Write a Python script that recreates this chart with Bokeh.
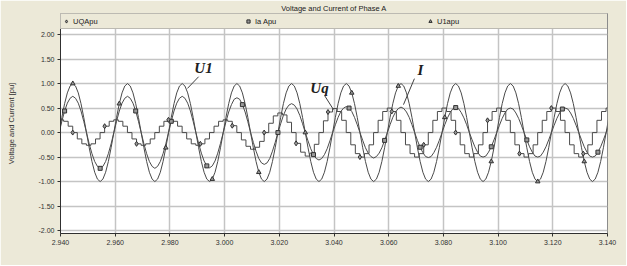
import numpy as np
from bokeh.plotting import figure
from bokeh.models import (Range1d, Legend, LegendItem, FixedTicker,
                          NumeralTickFormatter, ColumnDataSource)
from bokeh.embed import file_html
from bokeh.resources import INLINE
from bokeh.core.properties import value

# ---------------- data ----------------
# smooth curves sampled every 1 ms starting at T0
T0 = 2.9395
DT = 0.001
U1_VALUES = [
    0.00, 0.31, 0.59, 0.81, 0.95, 1.00, 0.95, 0.81, 0.59, 0.31, 0.00, -0.31, -0.59, -0.81, -0.95, -1.00, -0.95, -0.81, -0.59, -0.31,
    0.00, 0.31, 0.59, 0.81, 0.95, 1.00, 0.95, 0.81, 0.59, 0.31, 0.00, -0.31, -0.59, -0.81, -0.95, -1.00, -0.95, -0.81, -0.59, -0.31,
    0.00, 0.31, 0.59, 0.81, 0.95, 1.00, 0.95, 0.81, 0.59, 0.31, 0.00, -0.31, -0.59, -0.81, -0.95, -1.00, -0.95, -0.81, -0.59, -0.31,
    0.00, 0.31, 0.59, 0.81, 0.95, 1.00, 0.95, 0.81, 0.59, 0.31, 0.00, -0.31, -0.59, -0.81, -0.95, -1.00, -0.95, -0.81, -0.59, -0.31,
    0.00, 0.31, 0.59, 0.81, 0.95, 1.00, 0.95, 0.81, 0.59, 0.31, 0.00, -0.31, -0.59, -0.81, -0.95, -1.00, -0.95, -0.81, -0.59, -0.31,
    0.00, 0.31, 0.59, 0.81, 0.95, 1.00, 0.95, 0.81, 0.59, 0.31, 0.00, -0.31, -0.59, -0.81, -0.95, -1.00, -0.95, -0.81, -0.59, -0.31,
    0.00, 0.31, 0.59, 0.81, 0.95, 1.00, 0.95, 0.81, 0.59, 0.31, 0.00, -0.31, -0.59, -0.81, -0.95, -1.00, -0.95, -0.81, -0.59, -0.31,
    0.00, 0.31, 0.59, 0.81, 0.95, 1.00, 0.95, 0.81, 0.59, 0.31, 0.00, -0.31, -0.59, -0.81, -0.95, -1.00, -0.95, -0.81, -0.59, -0.31,
    0.00, 0.31, 0.59, 0.81, 0.95, 1.00, 0.95, 0.81, 0.59, 0.31, 0.00, -0.31, -0.59, -0.81, -0.95, -1.00, -0.95, -0.81, -0.59, -0.31,
    0.00, 0.31, 0.59, 0.81, 0.95, 1.00, 0.95, 0.81, 0.59, 0.31, 0.00, -0.31, -0.59, -0.81, -0.95, -1.00, -0.95, -0.81, -0.59, -0.31,
    0.00, 0.31,
]
IA_VALUES = [
    0.00, 0.23, 0.44, 0.60, 0.70, 0.74, 0.70, 0.60, 0.44, 0.23, 0.00, -0.23, -0.43, -0.59, -0.69, -0.73, -0.69, -0.59, -0.43, -0.23,
    0.00, 0.23, 0.44, 0.60, 0.70, 0.74, 0.70, 0.60, 0.44, 0.23, 0.00, -0.23, -0.43, -0.59, -0.69, -0.73, -0.69, -0.59, -0.43, -0.23,
    0.00, 0.23, 0.44, 0.60, 0.70, 0.74, 0.70, 0.60, 0.44, 0.23, 0.00, -0.22, -0.42, -0.58, -0.68, -0.72, -0.68, -0.58, -0.42, -0.22,
    0.00, 0.22, 0.42, 0.57, 0.68, 0.71, 0.68, 0.57, 0.42, 0.22, 0.00, -0.20, -0.38, -0.53, -0.62, -0.65, -0.62, -0.53, -0.38, -0.20,
    0.00, 0.18, 0.35, 0.48, 0.56, 0.59, 0.56, 0.48, 0.35, 0.18, 0.00, -0.17, -0.33, -0.45, -0.53, -0.56, -0.53, -0.45, -0.33, -0.17,
    0.00, 0.16, 0.31, 0.43, 0.50, 0.53, 0.50, 0.43, 0.31, 0.16, 0.00, -0.16, -0.31, -0.42, -0.49, -0.52, -0.49, -0.42, -0.31, -0.16,
    0.00, 0.16, 0.31, 0.42, 0.49, 0.52, 0.49, 0.42, 0.31, 0.16, 0.00, -0.16, -0.30, -0.41, -0.49, -0.51, -0.49, -0.41, -0.30, -0.16,
    0.00, 0.16, 0.30, 0.41, 0.49, 0.51, 0.49, 0.41, 0.30, 0.16, 0.00, -0.15, -0.29, -0.40, -0.48, -0.50, -0.48, -0.40, -0.29, -0.15,
    0.00, 0.15, 0.29, 0.40, 0.48, 0.50, 0.48, 0.40, 0.29, 0.15, 0.00, -0.15, -0.29, -0.40, -0.48, -0.50, -0.48, -0.40, -0.29, -0.15,
    0.00, 0.15, 0.29, 0.40, 0.48, 0.50, 0.48, 0.40, 0.29, 0.15, 0.00, -0.15, -0.29, -0.40, -0.48, -0.50, -0.48, -0.40, -0.29, -0.15,
    0.00, 0.15,
]
# stepped Uq signal: one value per step, steps of 1/600 s starting at TQ0
TQ0 = 2.93947
DTQ = 1.0 / 600.0
UQ_VALUES = [
    0.26, 0.23, 0.13, 0.00, -0.13, -0.23, -0.26, -0.23, -0.13, 0.00, 0.13, 0.23,
    0.26, 0.23, 0.13, 0.00, -0.13, -0.23, -0.26, -0.23, -0.13, 0.00, 0.13, 0.23,
    0.26, 0.23, 0.13, 0.00, -0.13, -0.23, -0.26, -0.23, -0.13, 0.00, 0.13, 0.23,
    0.26, 0.23, 0.14, 0.00, -0.15, -0.28, -0.34, -0.30, -0.18, 0.00, 0.19, 0.34,
    0.40, 0.36, 0.21, 0.00, -0.22, -0.40, -0.48, -0.42, -0.24, 0.00, 0.24, 0.42,
    0.49, 0.43, 0.25, 0.00, -0.25, -0.43, -0.50, -0.43, -0.25, 0.00, 0.25, 0.43,
    0.50, 0.43, 0.25, 0.00, -0.25, -0.43, -0.50, -0.43, -0.25, 0.00, 0.25, 0.43,
    0.50, 0.43, 0.25, 0.00, -0.25, -0.43, -0.50, -0.43, -0.25, 0.00, 0.25, 0.43,
    0.50, 0.43, 0.25, 0.00, -0.25, -0.43, -0.50, -0.43, -0.25, 0.00, 0.25, 0.43,
    0.50, 0.43, 0.25, 0.00, -0.25, -0.43, -0.50, -0.43, -0.25, 0.00, 0.25, 0.43,
    0.50, 0.43,
]
SERIES_NAMES = ["UQApu", "Ia Apu", "U1apu"]
X_TICKS = [2.94, 2.96, 2.98, 3.00, 3.02, 3.04, 3.06, 3.08, 3.10, 3.12, 3.14]
Y_TICKS = [-2.0, -1.5, -1.0, -0.5, 0.0, 0.5, 1.0, 1.5, 2.0]
# callout labels drawn on the chart
LABEL_TEXT = ["U1", "Uq", "I"]
LABEL_X = [2.9923, 3.0347, 3.0716]
LABEL_Y = [1.31, 0.90, 1.27]
LEADER_X0 = [2.9905, 3.0365, 3.0694]
LEADER_Y0 = [1.14, 0.76, 1.10]
LEADER_X1 = [2.9864, 3.0398, 3.0654]
LEADER_Y1 = [0.90, 0.47, 0.57]

# ---------------- figure ----------------
BEIGE = "#ECE9D8"
CURVE = "#4A4A4A"

t = T0 + DT * np.arange(len(U1_VALUES))
tq = TQ0 + DTQ * np.arange(len(UQ_VALUES))

p = figure(width=626, height=265, output_backend="svg", toolbar_location=None,
           x_range=Range1d(2.940, 3.140), y_range=Range1d(-2.06, 2.43),
           min_border_left=60, min_border_right=19, min_border_top=13,
           min_border_bottom=32, title="Voltage and Current of Phase A")
p.border_fill_color = BEIGE
p.background_fill_color = "white"
p.outline_line_color = "#8C8C8C"

p.title.align = "center"
p.title.text_font = "Liberation Sans"
p.title.text_font_size = "7.5px"
p.title.text_font_style = "normal"
p.title.text_color = "#202020"
p.title.standoff = 1
p.title.offset = -11

# axes
p.xaxis.ticker = FixedTicker(ticks=X_TICKS)
p.yaxis.ticker = FixedTicker(ticks=Y_TICKS)
p.xaxis.formatter = NumeralTickFormatter(format="0.000")
p.yaxis.formatter = NumeralTickFormatter(format="0.00")
for ax in (p.xaxis, p.yaxis):
    ax.axis_line_color = "#303030"
    ax.major_tick_line_color = "#303030"
    ax.major_tick_out = 3
    ax.major_tick_in = 0
    ax.minor_tick_line_color = None
    ax.major_label_text_font = "Liberation Sans"
    ax.major_label_text_font_size = "7px"
    ax.major_label_text_color = "#303030"
    ax.major_label_standoff = 3
p.yaxis.axis_label = "Voltage and Current [pu]"
p.yaxis.axis_label_text_font = "Liberation Sans"
p.yaxis.axis_label_text_font_size = "7.5px"
p.yaxis.axis_label_text_font_style = "normal"
p.yaxis.axis_label_text_color = "#303030"
p.yaxis.axis_label_standoff = 20

p.xgrid.grid_line_color = "#C4C4C4"
p.ygrid.grid_line_color = "#C4C4C4"
p.xgrid.grid_line_width = 1.5
p.ygrid.grid_line_width = 1.5

# curves
p.line(t, U1_VALUES, line_color=CURVE, line_width=1)
p.line(t, IA_VALUES, line_color=CURVE, line_width=1)
p.step(tq, UQ_VALUES, mode="after", line_color=CURVE, line_width=1)

# sparse markers (subset of data points)
u1_idx = np.arange(5, len(U1_VALUES), 17)
ia_idx = np.arange(2, len(IA_VALUES), 13)
uq_idx = np.arange(3, len(UQ_VALUES), 7)
r_u1 = p.scatter(t[u1_idx], np.array(U1_VALUES)[u1_idx], marker="triangle", size=4.5,
                 line_color="#303030", fill_color="#9A9A9A", line_width=1)
r_ia = p.scatter(t[ia_idx], np.array(IA_VALUES)[ia_idx], marker="square", size=4,
                 line_color="#303030", fill_color="#9A9A9A", line_width=1)
r_uq = p.scatter(tq[uq_idx], np.array(UQ_VALUES)[uq_idx], marker="diamond", size=5,
                 line_color="#303030", fill_color="#9A9A9A", line_width=1)

# callouts
lab = ColumnDataSource(dict(x=LABEL_X, y=LABEL_Y, text=LABEL_TEXT))
p.text(x="x", y="y", text="text", source=lab, text_font=value("Liberation Serif"),
       text_font_style="bold italic", text_font_size="15px", text_color="#202020",
       text_align="center", text_baseline="middle")
p.segment(x0=LEADER_X0, y0=LEADER_Y0, x1=LEADER_X1, y1=LEADER_Y1,
          line_color="#404040", line_width=1)

# legend row at the top of the plot area
legend = Legend(items=[LegendItem(label=SERIES_NAMES[0], renderers=[r_uq]),
                       LegendItem(label=SERIES_NAMES[1], renderers=[r_ia]),
                       LegendItem(label=SERIES_NAMES[2], renderers=[r_u1])],
                orientation="horizontal", location="top_left",
                glyph_width=8, glyph_height=12, label_standoff=3, label_width=170,
                label_height=12, spacing=1, padding=1, margin=0,
                border_line_color="#8C8C8C", background_fill_color=BEIGE,
                background_fill_alpha=1.0,
                label_text_font="Liberation Sans", label_text_font_size="7.5px",
                label_text_color="#202020")
p.add_layout(legend)

open("out.html", "w").write(file_html(p, INLINE))
